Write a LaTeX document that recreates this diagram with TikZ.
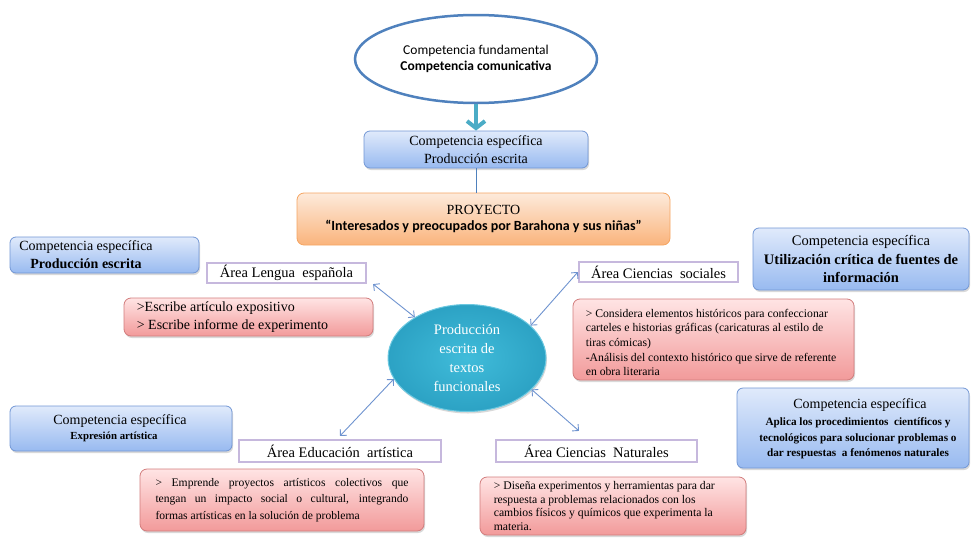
\documentclass[tikz,border=0pt]{standalone}
\usepackage{fontspec}
\setmainfont{Liberation Serif}
\newfontfamily\calfont{Carlito}
\usetikzlibrary{shapes.geometric,arrows.meta,shadows}
\definecolor{bluetop}{HTML}{E0EAFB}
\definecolor{bluebot}{HTML}{98BAF0}
\definecolor{bluebd}{HTML}{7297D5}
\definecolor{redtop}{HTML}{FFE4E4}
\definecolor{redbot}{HTML}{F29A9A}
\definecolor{redbd}{HTML}{D27D7D}
\definecolor{ortop}{HTML}{FDEADB}
\definecolor{orbot}{HTML}{FAB47C}
\definecolor{orbd}{HTML}{F5A562}
\definecolor{lav}{HTML}{C6B8DD}
\definecolor{tealin}{HTML}{40BCDA}
\definecolor{tealout}{HTML}{2CA2C4}
\definecolor{tealbd}{HTML}{6CC8E0}
\definecolor{ellbd}{HTML}{4F81BD}
\definecolor{tealarrow}{HTML}{4BACC6}
\definecolor{arrowblue}{HTML}{6E93CF}
\tikzset{
  shadowed/.style={drop shadow={opacity=0.3, shadow xshift=1pt, shadow yshift=-2pt}},
  bluebox/.style={shadowed, draw=bluebd, line width=0.8pt, rounded corners=6pt,
    top color=bluetop, bottom color=bluebot, inner sep=0pt, align=center,
    font=\fontsize{14}{18}\selectfont},
  redbox/.style={shadowed, draw=redbd, line width=0.8pt, rounded corners=7pt,
    top color=redtop, bottom color=redbot, inner sep=0pt},
  orangebox/.style={draw=orbd, line width=0.8pt, rounded corners=7pt,
    top color=ortop, bottom color=orbot, inner sep=0pt, align=center,
    font=\fontsize{14}{16}\selectfont},
  areabox/.style={draw=lav, line width=2.2pt, fill=white, inner sep=0pt,
    font=\fontsize{14.5}{17}\selectfont},
  redtext/.style={inner sep=0pt, align=left, font=\fontsize{11.7}{14.7}\selectfont},
  plaintext/.style={inner sep=0pt, align=center},
  biarrow/.style={draw=arrowblue, line width=0.9pt,
    {Straight Barb[length=4.5pt,width=9pt]}-{Straight Barb[length=4.5pt,width=9pt]}},
  tealarr/.style={draw=tealarrow, line width=4pt, -{Straight Barb[length=7pt,width=18pt]}}
}
\begin{document}
\begin{tikzpicture}[x=1pt,y=-1pt]
\useasboundingbox (0,0) rectangle (971,538);
% top ellipse
\node[ellipse, draw=ellbd, line width=2.5pt, fill=white, minimum width=242pt, minimum height=88pt,
  inner sep=0pt, align=center, font=\calfont\fontsize{13.5}{16}\selectfont] (top) at (476,59)
  {Competencia fundamental\\\textbf{Competencia comunicativa}};
% specific competence box
\node[bluebox, minimum width=224pt, minimum height=37pt] (spec) at (476,149.5)
  {Competencia específica\\Producción escrita};
\draw[tealarr] (top.south) -- (spec.north);
% project
\node[orangebox, minimum width=373pt, minimum height=52pt] (proj) at (483.5,219)
  {PROYECTO\\{\calfont\bfseries “Interesados y preocupados por Barahona y sus niñas”}};
\draw[draw=ellbd, line width=0.8pt] (spec.south) -- (spec.south |- proj.north);
% left blue box 1
\node[bluebox, minimum width=189pt, minimum height=36pt] (lb1) at (104.5,255) {};
\node[plaintext, font=\fontsize{14}{18}\selectfont] (lb1t) at (86,255)
  {Competencia específica\\\textbf{Producción escrita}};
% Lengua
\node[areabox, minimum width=159pt, minimum height=20pt] (lengua) at (286.5,273) {Área Lengua\ \ española};
\node[redbox, minimum width=249pt, minimum height=38pt] (r1) at (248.5,317) {};
\node[redtext, font=\fontsize{14}{18}\selectfont, anchor=west] (r1t) at ([xshift=13pt]r1.west)
  {>Escribe artículo expositivo\\> Escribe informe de experimento};
% central ellipse
\node[ellipse, shadowed, draw=tealbd, line width=1pt, inner color=tealin, outer color=tealout,
  minimum width=158pt, minimum height=107pt, inner sep=0pt, align=center, text=white,
  font=\fontsize{14.5}{19}\selectfont] (cen) at (467,358)
  {Producción\\escrita de\\textos\\funcionales};
% Ciencias sociales
\node[areabox, minimum width=159pt, minimum height=20pt] (soc) at (658.5,272) {Área Ciencias\ \ sociales};
\node[bluebox, minimum width=216pt, minimum height=62pt, font=\fontsize{14.5}{18.5}\selectfont] (rb1) at (861,259)
  {Competencia específica\\\textbf{Utilización crítica de fuentes de}\\\textbf{información}};
\node[redbox, minimum width=281pt, minimum height=81pt] (r2) at (713.5,339.5) {};
\node[redtext, anchor=west] (r2t) at ([xshift=13pt,yshift=-3pt]r2.west)
  {> Considera elementos históricos para confeccionar\\carteles e historias gráficas (caricaturas al estilo de\\tiras cómicas)\\-Análisis del contexto histórico que sirve de referente\\en obra literaria};
% left blue box 2
\node[bluebox, minimum width=222pt, minimum height=45pt] (lb2) at (121,428.5) {};
\node[plaintext, font=\fontsize{14}{17}\selectfont] (lb2a) at (120,421) {Competencia específica};
\node[plaintext, font=\fontsize{10.8}{13}\selectfont\bfseries] (lb2b) at (114,437) {Expresión artística};
% Educacion artistica
\node[areabox, minimum width=202pt, minimum height=22pt] (educ) at (340,451) {Área Educación\ \ artística};
\node[redbox, minimum width=284pt, minimum height=62pt, text width=253pt, align=justify,
  font=\fontsize{11.6}{16.5}\selectfont] (r3) at (282,500)
  {> Emprende proyectos artísticos colectivos que\linebreak tengan un impacto social o cultural, integrando\linebreak formas artísticas en la solución de problema};
% Ciencias naturales
\node[areabox, minimum width=201pt, minimum height=22pt] (nat) at (596.5,451) {Área Ciencias\ \ Naturales};
\node[redbox, minimum width=266pt, minimum height=58pt] (r4) at (613,506) {};
\node[redtext, font=\fontsize{11.7}{13.6}\selectfont, anchor=west] (r4t) at ([xshift=14pt]r4.west)
  {> Diseña experimentos y herramientas para dar\\respuesta a problemas relacionados con los\\cambios físicos y químicos que experimenta la\\materia.};
% right blue box 2
\node[bluebox, minimum width=232pt, minimum height=80pt] (rb2) at (853,428) {};
\node[plaintext, font=\fontsize{14}{17}\selectfont] (rb2a) at (860,405) {Competencia específica};
\node[plaintext, font=\fontsize{11.2}{15.5}\selectfont\bfseries] (rb2b) at (858,438.5)
  {Aplica los procedimientos\ \ científicos y\\tecnológicos para solucionar problemas o\\dar respuestas\ \ a fenómenos naturales};
% arrows
\draw[biarrow] ([xshift=6pt]lengua.south east) -- (cen.142);
\draw[biarrow] (cen.27) -- (soc.west);
\draw[biarrow] ([yshift=3pt]educ.north) -- (cen.196);
\draw[biarrow] (cen.-26) -- ([xshift=-17.5pt,yshift=8pt]nat.north);
\end{tikzpicture}
\end{document}
